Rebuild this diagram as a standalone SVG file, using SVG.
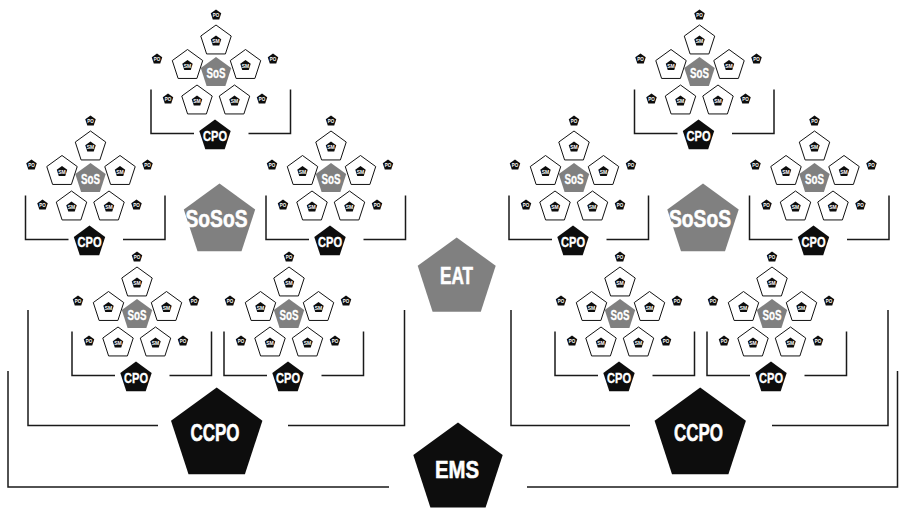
<svg xmlns="http://www.w3.org/2000/svg" xmlns:xlink="http://www.w3.org/1999/xlink" width="906" height="513" viewBox="0 0 906 513">
<defs>
<style>
.grey{fill:#808080}
.wht{fill:#fff;stroke:#111;stroke-width:1}
.blk{fill:#0d0d0d}
.ts{font-family:"Liberation Sans Narrow","Liberation Sans",Arial,sans-serif;font-weight:bold;font-size:6px;fill:#fff;text-anchor:middle}
.tm{font-family:"Liberation Sans Narrow","Liberation Sans",Arial,sans-serif;font-weight:bold;font-size:15px;fill:#fff;stroke:#fff;stroke-width:0.35;text-anchor:middle}
.tb{font-family:"Liberation Sans Narrow","Liberation Sans",Arial,sans-serif;font-weight:bold;font-size:24.5px;fill:#fff;stroke:#fff;stroke-width:0.6;text-anchor:middle}
.br{fill:none;stroke:#1a1a1a;stroke-width:1.5}
</style>
<path id="p16" d="M0,-16 L15.22,-4.94 L9.4,12.94 L-9.4,12.94 L-15.22,-4.94 Z"/>
<path id="p17" d="M0,-16.5 L15.69,-5.1 L9.7,13.35 L-9.7,13.35 L-15.69,-5.1 Z"/>
<path id="p5" d="M0,-5.5 L5.23,-1.7 L3.23,4.45 L-3.23,4.45 L-5.23,-1.7 Z"/>
</defs>
<rect width="906" height="513" fill="#fff"/>

<g id="connectors">
<path class="br" d="M151 89.5 V133.5 H194 M248.5 133.5 H290.5 V89.5"/>
<path class="br" d="M25.5 195.5 V239.5 H68.5 M123 239.5 H165 V195.5"/>
<path class="br" d="M266 195.5 V239.5 H309 M363.5 239.5 H405.5 V195.5"/>
<path class="br" d="M72 331.5 V375.5 H115 M169.5 375.5 H211.5 V331.5"/>
<path class="br" d="M224 331.5 V375.5 H267 M321.5 375.5 H363.5 V331.5"/>
<path class="br" d="M634.5 89.5 V133.5 H677.5 M732 133.5 H774 V89.5"/>
<path class="br" d="M509 195.5 V239.5 H552 M606.5 239.5 H648.5 V195.5"/>
<path class="br" d="M749.5 195.5 V239.5 H792.5 M847 239.5 H889 V195.5"/>
<path class="br" d="M555 331.5 V375.5 H598 M652.5 375.5 H694.5 V331.5"/>
<path class="br" d="M707 331.5 V375.5 H750 M804.5 375.5 H846.5 V331.5"/>
<path class="br" d="M28 310 V425.5 H158 M288 425.5 H404.5 V310"/>
<path class="br" d="M511 310 V425.5 H630 M772 425.5 H888 V310"/>
<path class="br" d="M8 371 V487 H389 M527 487 H897.5 V371"/>
</g>

<g id="cluster1" transform="translate(216,73)">
<g id="c1-sos"><use href="#p16" class="grey"/><text class="tm" y="4.5" textLength="19" lengthAdjust="spacingAndGlyphs">SoS</text></g>
<g id="c1-sm1" transform="translate(0,-32)"><use href="#p16" class="wht"/><use href="#p5" class="blk"/><text class="ts" y="2.2" textLength="7.5" lengthAdjust="spacingAndGlyphs">SM</text></g>
<g id="c1-sm2" transform="translate(-28.5,-7.5)"><use href="#p16" class="wht"/><use href="#p5" class="blk"/><text class="ts" y="2.2" textLength="7.5" lengthAdjust="spacingAndGlyphs">SM</text></g>
<g id="c1-sm3" transform="translate(29.5,-7.5)"><use href="#p16" class="wht"/><use href="#p5" class="blk"/><text class="ts" y="2.2" textLength="7.5" lengthAdjust="spacingAndGlyphs">SM</text></g>
<g id="c1-sm4" transform="translate(-19,28)"><use href="#p16" class="wht"/><use href="#p5" class="blk"/><text class="ts" y="2.2" textLength="7.5" lengthAdjust="spacingAndGlyphs">SM</text></g>
<g id="c1-sm5" transform="translate(18.5,28)"><use href="#p16" class="wht"/><use href="#p5" class="blk"/><text class="ts" y="2.2" textLength="7.5" lengthAdjust="spacingAndGlyphs">SM</text></g>
<g id="c1-po1" transform="translate(0,-58)"><use href="#p5" class="blk"/><text class="ts" y="2.2" textLength="6.5" lengthAdjust="spacingAndGlyphs">PO</text></g>
<g id="c1-po2" transform="translate(-59,-14)"><use href="#p5" class="blk"/><text class="ts" y="2.2" textLength="6.5" lengthAdjust="spacingAndGlyphs">PO</text></g>
<g id="c1-po3" transform="translate(57,-14)"><use href="#p5" class="blk"/><text class="ts" y="2.2" textLength="6.5" lengthAdjust="spacingAndGlyphs">PO</text></g>
<g id="c1-po4" transform="translate(-48,26)"><use href="#p5" class="blk"/><text class="ts" y="2.2" textLength="6.5" lengthAdjust="spacingAndGlyphs">PO</text></g>
<g id="c1-po5" transform="translate(46,26)"><use href="#p5" class="blk"/><text class="ts" y="2.2" textLength="6.5" lengthAdjust="spacingAndGlyphs">PO</text></g>
<g id="c1-cpo" transform="translate(-1,63)"><use href="#p17" class="blk"/><text class="tm" y="5" textLength="24" lengthAdjust="spacingAndGlyphs">CPO</text></g>
</g>

<g id="cluster2" transform="translate(90.5,179)">
<g id="c2-sos"><use href="#p16" class="grey"/><text class="tm" y="4.5" textLength="19" lengthAdjust="spacingAndGlyphs">SoS</text></g>
<g id="c2-sm1" transform="translate(0,-32)"><use href="#p16" class="wht"/><use href="#p5" class="blk"/><text class="ts" y="2.2" textLength="7.5" lengthAdjust="spacingAndGlyphs">SM</text></g>
<g id="c2-sm2" transform="translate(-28.5,-7.5)"><use href="#p16" class="wht"/><use href="#p5" class="blk"/><text class="ts" y="2.2" textLength="7.5" lengthAdjust="spacingAndGlyphs">SM</text></g>
<g id="c2-sm3" transform="translate(29.5,-7.5)"><use href="#p16" class="wht"/><use href="#p5" class="blk"/><text class="ts" y="2.2" textLength="7.5" lengthAdjust="spacingAndGlyphs">SM</text></g>
<g id="c2-sm4" transform="translate(-19,28)"><use href="#p16" class="wht"/><use href="#p5" class="blk"/><text class="ts" y="2.2" textLength="7.5" lengthAdjust="spacingAndGlyphs">SM</text></g>
<g id="c2-sm5" transform="translate(18.5,28)"><use href="#p16" class="wht"/><use href="#p5" class="blk"/><text class="ts" y="2.2" textLength="7.5" lengthAdjust="spacingAndGlyphs">SM</text></g>
<g id="c2-po1" transform="translate(0,-58)"><use href="#p5" class="blk"/><text class="ts" y="2.2" textLength="6.5" lengthAdjust="spacingAndGlyphs">PO</text></g>
<g id="c2-po2" transform="translate(-59,-14)"><use href="#p5" class="blk"/><text class="ts" y="2.2" textLength="6.5" lengthAdjust="spacingAndGlyphs">PO</text></g>
<g id="c2-po3" transform="translate(57,-14)"><use href="#p5" class="blk"/><text class="ts" y="2.2" textLength="6.5" lengthAdjust="spacingAndGlyphs">PO</text></g>
<g id="c2-po4" transform="translate(-48,26)"><use href="#p5" class="blk"/><text class="ts" y="2.2" textLength="6.5" lengthAdjust="spacingAndGlyphs">PO</text></g>
<g id="c2-po5" transform="translate(46,26)"><use href="#p5" class="blk"/><text class="ts" y="2.2" textLength="6.5" lengthAdjust="spacingAndGlyphs">PO</text></g>
<g id="c2-cpo" transform="translate(-1,63)"><use href="#p17" class="blk"/><text class="tm" y="5" textLength="24" lengthAdjust="spacingAndGlyphs">CPO</text></g>
</g>

<g id="cluster3" transform="translate(331,179)">
<g id="c3-sos"><use href="#p16" class="grey"/><text class="tm" y="4.5" textLength="19" lengthAdjust="spacingAndGlyphs">SoS</text></g>
<g id="c3-sm1" transform="translate(0,-32)"><use href="#p16" class="wht"/><use href="#p5" class="blk"/><text class="ts" y="2.2" textLength="7.5" lengthAdjust="spacingAndGlyphs">SM</text></g>
<g id="c3-sm2" transform="translate(-28.5,-7.5)"><use href="#p16" class="wht"/><use href="#p5" class="blk"/><text class="ts" y="2.2" textLength="7.5" lengthAdjust="spacingAndGlyphs">SM</text></g>
<g id="c3-sm3" transform="translate(29.5,-7.5)"><use href="#p16" class="wht"/><use href="#p5" class="blk"/><text class="ts" y="2.2" textLength="7.5" lengthAdjust="spacingAndGlyphs">SM</text></g>
<g id="c3-sm4" transform="translate(-19,28)"><use href="#p16" class="wht"/><use href="#p5" class="blk"/><text class="ts" y="2.2" textLength="7.5" lengthAdjust="spacingAndGlyphs">SM</text></g>
<g id="c3-sm5" transform="translate(18.5,28)"><use href="#p16" class="wht"/><use href="#p5" class="blk"/><text class="ts" y="2.2" textLength="7.5" lengthAdjust="spacingAndGlyphs">SM</text></g>
<g id="c3-po1" transform="translate(0,-58)"><use href="#p5" class="blk"/><text class="ts" y="2.2" textLength="6.5" lengthAdjust="spacingAndGlyphs">PO</text></g>
<g id="c3-po2" transform="translate(-59,-14)"><use href="#p5" class="blk"/><text class="ts" y="2.2" textLength="6.5" lengthAdjust="spacingAndGlyphs">PO</text></g>
<g id="c3-po3" transform="translate(57,-14)"><use href="#p5" class="blk"/><text class="ts" y="2.2" textLength="6.5" lengthAdjust="spacingAndGlyphs">PO</text></g>
<g id="c3-po4" transform="translate(-48,26)"><use href="#p5" class="blk"/><text class="ts" y="2.2" textLength="6.5" lengthAdjust="spacingAndGlyphs">PO</text></g>
<g id="c3-po5" transform="translate(46,26)"><use href="#p5" class="blk"/><text class="ts" y="2.2" textLength="6.5" lengthAdjust="spacingAndGlyphs">PO</text></g>
<g id="c3-cpo" transform="translate(-1,63)"><use href="#p17" class="blk"/><text class="tm" y="5" textLength="24" lengthAdjust="spacingAndGlyphs">CPO</text></g>
</g>

<g id="cluster4" transform="translate(137,315)">
<g id="c4-sos"><use href="#p16" class="grey"/><text class="tm" y="4.5" textLength="19" lengthAdjust="spacingAndGlyphs">SoS</text></g>
<g id="c4-sm1" transform="translate(0,-32)"><use href="#p16" class="wht"/><use href="#p5" class="blk"/><text class="ts" y="2.2" textLength="7.5" lengthAdjust="spacingAndGlyphs">SM</text></g>
<g id="c4-sm2" transform="translate(-28.5,-7.5)"><use href="#p16" class="wht"/><use href="#p5" class="blk"/><text class="ts" y="2.2" textLength="7.5" lengthAdjust="spacingAndGlyphs">SM</text></g>
<g id="c4-sm3" transform="translate(29.5,-7.5)"><use href="#p16" class="wht"/><use href="#p5" class="blk"/><text class="ts" y="2.2" textLength="7.5" lengthAdjust="spacingAndGlyphs">SM</text></g>
<g id="c4-sm4" transform="translate(-19,28)"><use href="#p16" class="wht"/><use href="#p5" class="blk"/><text class="ts" y="2.2" textLength="7.5" lengthAdjust="spacingAndGlyphs">SM</text></g>
<g id="c4-sm5" transform="translate(18.5,28)"><use href="#p16" class="wht"/><use href="#p5" class="blk"/><text class="ts" y="2.2" textLength="7.5" lengthAdjust="spacingAndGlyphs">SM</text></g>
<g id="c4-po1" transform="translate(0,-58)"><use href="#p5" class="blk"/><text class="ts" y="2.2" textLength="6.5" lengthAdjust="spacingAndGlyphs">PO</text></g>
<g id="c4-po2" transform="translate(-59,-14)"><use href="#p5" class="blk"/><text class="ts" y="2.2" textLength="6.5" lengthAdjust="spacingAndGlyphs">PO</text></g>
<g id="c4-po3" transform="translate(57,-14)"><use href="#p5" class="blk"/><text class="ts" y="2.2" textLength="6.5" lengthAdjust="spacingAndGlyphs">PO</text></g>
<g id="c4-po4" transform="translate(-48,26)"><use href="#p5" class="blk"/><text class="ts" y="2.2" textLength="6.5" lengthAdjust="spacingAndGlyphs">PO</text></g>
<g id="c4-po5" transform="translate(46,26)"><use href="#p5" class="blk"/><text class="ts" y="2.2" textLength="6.5" lengthAdjust="spacingAndGlyphs">PO</text></g>
<g id="c4-cpo" transform="translate(-1,63)"><use href="#p17" class="blk"/><text class="tm" y="5" textLength="24" lengthAdjust="spacingAndGlyphs">CPO</text></g>
</g>

<g id="cluster5" transform="translate(289,315)">
<g id="c5-sos"><use href="#p16" class="grey"/><text class="tm" y="4.5" textLength="19" lengthAdjust="spacingAndGlyphs">SoS</text></g>
<g id="c5-sm1" transform="translate(0,-32)"><use href="#p16" class="wht"/><use href="#p5" class="blk"/><text class="ts" y="2.2" textLength="7.5" lengthAdjust="spacingAndGlyphs">SM</text></g>
<g id="c5-sm2" transform="translate(-28.5,-7.5)"><use href="#p16" class="wht"/><use href="#p5" class="blk"/><text class="ts" y="2.2" textLength="7.5" lengthAdjust="spacingAndGlyphs">SM</text></g>
<g id="c5-sm3" transform="translate(29.5,-7.5)"><use href="#p16" class="wht"/><use href="#p5" class="blk"/><text class="ts" y="2.2" textLength="7.5" lengthAdjust="spacingAndGlyphs">SM</text></g>
<g id="c5-sm4" transform="translate(-19,28)"><use href="#p16" class="wht"/><use href="#p5" class="blk"/><text class="ts" y="2.2" textLength="7.5" lengthAdjust="spacingAndGlyphs">SM</text></g>
<g id="c5-sm5" transform="translate(18.5,28)"><use href="#p16" class="wht"/><use href="#p5" class="blk"/><text class="ts" y="2.2" textLength="7.5" lengthAdjust="spacingAndGlyphs">SM</text></g>
<g id="c5-po1" transform="translate(0,-58)"><use href="#p5" class="blk"/><text class="ts" y="2.2" textLength="6.5" lengthAdjust="spacingAndGlyphs">PO</text></g>
<g id="c5-po2" transform="translate(-59,-14)"><use href="#p5" class="blk"/><text class="ts" y="2.2" textLength="6.5" lengthAdjust="spacingAndGlyphs">PO</text></g>
<g id="c5-po3" transform="translate(57,-14)"><use href="#p5" class="blk"/><text class="ts" y="2.2" textLength="6.5" lengthAdjust="spacingAndGlyphs">PO</text></g>
<g id="c5-po4" transform="translate(-48,26)"><use href="#p5" class="blk"/><text class="ts" y="2.2" textLength="6.5" lengthAdjust="spacingAndGlyphs">PO</text></g>
<g id="c5-po5" transform="translate(46,26)"><use href="#p5" class="blk"/><text class="ts" y="2.2" textLength="6.5" lengthAdjust="spacingAndGlyphs">PO</text></g>
<g id="c5-cpo" transform="translate(-1,63)"><use href="#p17" class="blk"/><text class="tm" y="5" textLength="24" lengthAdjust="spacingAndGlyphs">CPO</text></g>
</g>

<g id="cluster6" transform="translate(699.5,73)">
<g id="c6-sos"><use href="#p16" class="grey"/><text class="tm" y="4.5" textLength="19" lengthAdjust="spacingAndGlyphs">SoS</text></g>
<g id="c6-sm1" transform="translate(0,-32)"><use href="#p16" class="wht"/><use href="#p5" class="blk"/><text class="ts" y="2.2" textLength="7.5" lengthAdjust="spacingAndGlyphs">SM</text></g>
<g id="c6-sm2" transform="translate(-28.5,-7.5)"><use href="#p16" class="wht"/><use href="#p5" class="blk"/><text class="ts" y="2.2" textLength="7.5" lengthAdjust="spacingAndGlyphs">SM</text></g>
<g id="c6-sm3" transform="translate(29.5,-7.5)"><use href="#p16" class="wht"/><use href="#p5" class="blk"/><text class="ts" y="2.2" textLength="7.5" lengthAdjust="spacingAndGlyphs">SM</text></g>
<g id="c6-sm4" transform="translate(-19,28)"><use href="#p16" class="wht"/><use href="#p5" class="blk"/><text class="ts" y="2.2" textLength="7.5" lengthAdjust="spacingAndGlyphs">SM</text></g>
<g id="c6-sm5" transform="translate(18.5,28)"><use href="#p16" class="wht"/><use href="#p5" class="blk"/><text class="ts" y="2.2" textLength="7.5" lengthAdjust="spacingAndGlyphs">SM</text></g>
<g id="c6-po1" transform="translate(0,-58)"><use href="#p5" class="blk"/><text class="ts" y="2.2" textLength="6.5" lengthAdjust="spacingAndGlyphs">PO</text></g>
<g id="c6-po2" transform="translate(-59,-14)"><use href="#p5" class="blk"/><text class="ts" y="2.2" textLength="6.5" lengthAdjust="spacingAndGlyphs">PO</text></g>
<g id="c6-po3" transform="translate(57,-14)"><use href="#p5" class="blk"/><text class="ts" y="2.2" textLength="6.5" lengthAdjust="spacingAndGlyphs">PO</text></g>
<g id="c6-po4" transform="translate(-48,26)"><use href="#p5" class="blk"/><text class="ts" y="2.2" textLength="6.5" lengthAdjust="spacingAndGlyphs">PO</text></g>
<g id="c6-po5" transform="translate(46,26)"><use href="#p5" class="blk"/><text class="ts" y="2.2" textLength="6.5" lengthAdjust="spacingAndGlyphs">PO</text></g>
<g id="c6-cpo" transform="translate(-1,63)"><use href="#p17" class="blk"/><text class="tm" y="5" textLength="24" lengthAdjust="spacingAndGlyphs">CPO</text></g>
</g>

<g id="cluster7" transform="translate(574,179)">
<g id="c7-sos"><use href="#p16" class="grey"/><text class="tm" y="4.5" textLength="19" lengthAdjust="spacingAndGlyphs">SoS</text></g>
<g id="c7-sm1" transform="translate(0,-32)"><use href="#p16" class="wht"/><use href="#p5" class="blk"/><text class="ts" y="2.2" textLength="7.5" lengthAdjust="spacingAndGlyphs">SM</text></g>
<g id="c7-sm2" transform="translate(-28.5,-7.5)"><use href="#p16" class="wht"/><use href="#p5" class="blk"/><text class="ts" y="2.2" textLength="7.5" lengthAdjust="spacingAndGlyphs">SM</text></g>
<g id="c7-sm3" transform="translate(29.5,-7.5)"><use href="#p16" class="wht"/><use href="#p5" class="blk"/><text class="ts" y="2.2" textLength="7.5" lengthAdjust="spacingAndGlyphs">SM</text></g>
<g id="c7-sm4" transform="translate(-19,28)"><use href="#p16" class="wht"/><use href="#p5" class="blk"/><text class="ts" y="2.2" textLength="7.5" lengthAdjust="spacingAndGlyphs">SM</text></g>
<g id="c7-sm5" transform="translate(18.5,28)"><use href="#p16" class="wht"/><use href="#p5" class="blk"/><text class="ts" y="2.2" textLength="7.5" lengthAdjust="spacingAndGlyphs">SM</text></g>
<g id="c7-po1" transform="translate(0,-58)"><use href="#p5" class="blk"/><text class="ts" y="2.2" textLength="6.5" lengthAdjust="spacingAndGlyphs">PO</text></g>
<g id="c7-po2" transform="translate(-59,-14)"><use href="#p5" class="blk"/><text class="ts" y="2.2" textLength="6.5" lengthAdjust="spacingAndGlyphs">PO</text></g>
<g id="c7-po3" transform="translate(57,-14)"><use href="#p5" class="blk"/><text class="ts" y="2.2" textLength="6.5" lengthAdjust="spacingAndGlyphs">PO</text></g>
<g id="c7-po4" transform="translate(-48,26)"><use href="#p5" class="blk"/><text class="ts" y="2.2" textLength="6.5" lengthAdjust="spacingAndGlyphs">PO</text></g>
<g id="c7-po5" transform="translate(46,26)"><use href="#p5" class="blk"/><text class="ts" y="2.2" textLength="6.5" lengthAdjust="spacingAndGlyphs">PO</text></g>
<g id="c7-cpo" transform="translate(-1,63)"><use href="#p17" class="blk"/><text class="tm" y="5" textLength="24" lengthAdjust="spacingAndGlyphs">CPO</text></g>
</g>

<g id="cluster8" transform="translate(814.5,179)">
<g id="c8-sos"><use href="#p16" class="grey"/><text class="tm" y="4.5" textLength="19" lengthAdjust="spacingAndGlyphs">SoS</text></g>
<g id="c8-sm1" transform="translate(0,-32)"><use href="#p16" class="wht"/><use href="#p5" class="blk"/><text class="ts" y="2.2" textLength="7.5" lengthAdjust="spacingAndGlyphs">SM</text></g>
<g id="c8-sm2" transform="translate(-28.5,-7.5)"><use href="#p16" class="wht"/><use href="#p5" class="blk"/><text class="ts" y="2.2" textLength="7.5" lengthAdjust="spacingAndGlyphs">SM</text></g>
<g id="c8-sm3" transform="translate(29.5,-7.5)"><use href="#p16" class="wht"/><use href="#p5" class="blk"/><text class="ts" y="2.2" textLength="7.5" lengthAdjust="spacingAndGlyphs">SM</text></g>
<g id="c8-sm4" transform="translate(-19,28)"><use href="#p16" class="wht"/><use href="#p5" class="blk"/><text class="ts" y="2.2" textLength="7.5" lengthAdjust="spacingAndGlyphs">SM</text></g>
<g id="c8-sm5" transform="translate(18.5,28)"><use href="#p16" class="wht"/><use href="#p5" class="blk"/><text class="ts" y="2.2" textLength="7.5" lengthAdjust="spacingAndGlyphs">SM</text></g>
<g id="c8-po1" transform="translate(0,-58)"><use href="#p5" class="blk"/><text class="ts" y="2.2" textLength="6.5" lengthAdjust="spacingAndGlyphs">PO</text></g>
<g id="c8-po2" transform="translate(-59,-14)"><use href="#p5" class="blk"/><text class="ts" y="2.2" textLength="6.5" lengthAdjust="spacingAndGlyphs">PO</text></g>
<g id="c8-po3" transform="translate(57,-14)"><use href="#p5" class="blk"/><text class="ts" y="2.2" textLength="6.5" lengthAdjust="spacingAndGlyphs">PO</text></g>
<g id="c8-po4" transform="translate(-48,26)"><use href="#p5" class="blk"/><text class="ts" y="2.2" textLength="6.5" lengthAdjust="spacingAndGlyphs">PO</text></g>
<g id="c8-po5" transform="translate(46,26)"><use href="#p5" class="blk"/><text class="ts" y="2.2" textLength="6.5" lengthAdjust="spacingAndGlyphs">PO</text></g>
<g id="c8-cpo" transform="translate(-1,63)"><use href="#p17" class="blk"/><text class="tm" y="5" textLength="24" lengthAdjust="spacingAndGlyphs">CPO</text></g>
</g>

<g id="cluster9" transform="translate(620,315)">
<g id="c9-sos"><use href="#p16" class="grey"/><text class="tm" y="4.5" textLength="19" lengthAdjust="spacingAndGlyphs">SoS</text></g>
<g id="c9-sm1" transform="translate(0,-32)"><use href="#p16" class="wht"/><use href="#p5" class="blk"/><text class="ts" y="2.2" textLength="7.5" lengthAdjust="spacingAndGlyphs">SM</text></g>
<g id="c9-sm2" transform="translate(-28.5,-7.5)"><use href="#p16" class="wht"/><use href="#p5" class="blk"/><text class="ts" y="2.2" textLength="7.5" lengthAdjust="spacingAndGlyphs">SM</text></g>
<g id="c9-sm3" transform="translate(29.5,-7.5)"><use href="#p16" class="wht"/><use href="#p5" class="blk"/><text class="ts" y="2.2" textLength="7.5" lengthAdjust="spacingAndGlyphs">SM</text></g>
<g id="c9-sm4" transform="translate(-19,28)"><use href="#p16" class="wht"/><use href="#p5" class="blk"/><text class="ts" y="2.2" textLength="7.5" lengthAdjust="spacingAndGlyphs">SM</text></g>
<g id="c9-sm5" transform="translate(18.5,28)"><use href="#p16" class="wht"/><use href="#p5" class="blk"/><text class="ts" y="2.2" textLength="7.5" lengthAdjust="spacingAndGlyphs">SM</text></g>
<g id="c9-po1" transform="translate(0,-58)"><use href="#p5" class="blk"/><text class="ts" y="2.2" textLength="6.5" lengthAdjust="spacingAndGlyphs">PO</text></g>
<g id="c9-po2" transform="translate(-59,-14)"><use href="#p5" class="blk"/><text class="ts" y="2.2" textLength="6.5" lengthAdjust="spacingAndGlyphs">PO</text></g>
<g id="c9-po3" transform="translate(57,-14)"><use href="#p5" class="blk"/><text class="ts" y="2.2" textLength="6.5" lengthAdjust="spacingAndGlyphs">PO</text></g>
<g id="c9-po4" transform="translate(-48,26)"><use href="#p5" class="blk"/><text class="ts" y="2.2" textLength="6.5" lengthAdjust="spacingAndGlyphs">PO</text></g>
<g id="c9-po5" transform="translate(46,26)"><use href="#p5" class="blk"/><text class="ts" y="2.2" textLength="6.5" lengthAdjust="spacingAndGlyphs">PO</text></g>
<g id="c9-cpo" transform="translate(-1,63)"><use href="#p17" class="blk"/><text class="tm" y="5" textLength="24" lengthAdjust="spacingAndGlyphs">CPO</text></g>
</g>

<g id="cluster10" transform="translate(772,315)">
<g id="c10-sos"><use href="#p16" class="grey"/><text class="tm" y="4.5" textLength="19" lengthAdjust="spacingAndGlyphs">SoS</text></g>
<g id="c10-sm1" transform="translate(0,-32)"><use href="#p16" class="wht"/><use href="#p5" class="blk"/><text class="ts" y="2.2" textLength="7.5" lengthAdjust="spacingAndGlyphs">SM</text></g>
<g id="c10-sm2" transform="translate(-28.5,-7.5)"><use href="#p16" class="wht"/><use href="#p5" class="blk"/><text class="ts" y="2.2" textLength="7.5" lengthAdjust="spacingAndGlyphs">SM</text></g>
<g id="c10-sm3" transform="translate(29.5,-7.5)"><use href="#p16" class="wht"/><use href="#p5" class="blk"/><text class="ts" y="2.2" textLength="7.5" lengthAdjust="spacingAndGlyphs">SM</text></g>
<g id="c10-sm4" transform="translate(-19,28)"><use href="#p16" class="wht"/><use href="#p5" class="blk"/><text class="ts" y="2.2" textLength="7.5" lengthAdjust="spacingAndGlyphs">SM</text></g>
<g id="c10-sm5" transform="translate(18.5,28)"><use href="#p16" class="wht"/><use href="#p5" class="blk"/><text class="ts" y="2.2" textLength="7.5" lengthAdjust="spacingAndGlyphs">SM</text></g>
<g id="c10-po1" transform="translate(0,-58)"><use href="#p5" class="blk"/><text class="ts" y="2.2" textLength="6.5" lengthAdjust="spacingAndGlyphs">PO</text></g>
<g id="c10-po2" transform="translate(-59,-14)"><use href="#p5" class="blk"/><text class="ts" y="2.2" textLength="6.5" lengthAdjust="spacingAndGlyphs">PO</text></g>
<g id="c10-po3" transform="translate(57,-14)"><use href="#p5" class="blk"/><text class="ts" y="2.2" textLength="6.5" lengthAdjust="spacingAndGlyphs">PO</text></g>
<g id="c10-po4" transform="translate(-48,26)"><use href="#p5" class="blk"/><text class="ts" y="2.2" textLength="6.5" lengthAdjust="spacingAndGlyphs">PO</text></g>
<g id="c10-po5" transform="translate(46,26)"><use href="#p5" class="blk"/><text class="ts" y="2.2" textLength="6.5" lengthAdjust="spacingAndGlyphs">PO</text></g>
<g id="c10-cpo" transform="translate(-1,63)"><use href="#p17" class="blk"/><text class="tm" y="5" textLength="24" lengthAdjust="spacingAndGlyphs">CPO</text></g>
</g>

<g id="sosos-left"><polygon class="grey" points="219.5,183.5 255.2,209.4 241.5,251.3 197.5,251.3 183.8,209.4"/><text class="tb" x="216.5" y="226.5" textLength="62" lengthAdjust="spacingAndGlyphs">SoSoS</text></g>
<g id="sosos-right"><polygon class="grey" points="703,183.5 738.7,209.4 725,251.3 681,251.3 667.3,209.4"/><text class="tb" x="700" y="226.5" textLength="62" lengthAdjust="spacingAndGlyphs">SoSoS</text></g>
<g id="eat"><polygon class="grey" points="456.7,237.5 495.7,265.8 480.8,311.7 432.6,311.7 417.7,265.8"/><text class="tb" x="456.5" y="284" textLength="33" lengthAdjust="spacingAndGlyphs">EAT</text></g>
<g id="ccpo-left"><polygon class="blk" points="216.7,387.5 262.4,420.7 244.9,474.3 188.5,474.3 171,420.7"/><text class="tb" x="215" y="440.5" textLength="49" lengthAdjust="spacingAndGlyphs">CCPO</text></g>
<g id="ccpo-right"><polygon class="blk" points="700.2,387.5 745.9,420.7 728.4,474.3 672,474.3 654.6,420.7"/><text class="tb" x="698.5" y="440.5" textLength="49" lengthAdjust="spacingAndGlyphs">CCPO</text></g>
<g id="ems"><polygon class="blk" points="458,422.5 502.7,455 485.6,507.5 430.4,507.5 413.3,455"/><text class="tb" x="457" y="477.5" textLength="44" lengthAdjust="spacingAndGlyphs">EMS</text></g>
</svg>
